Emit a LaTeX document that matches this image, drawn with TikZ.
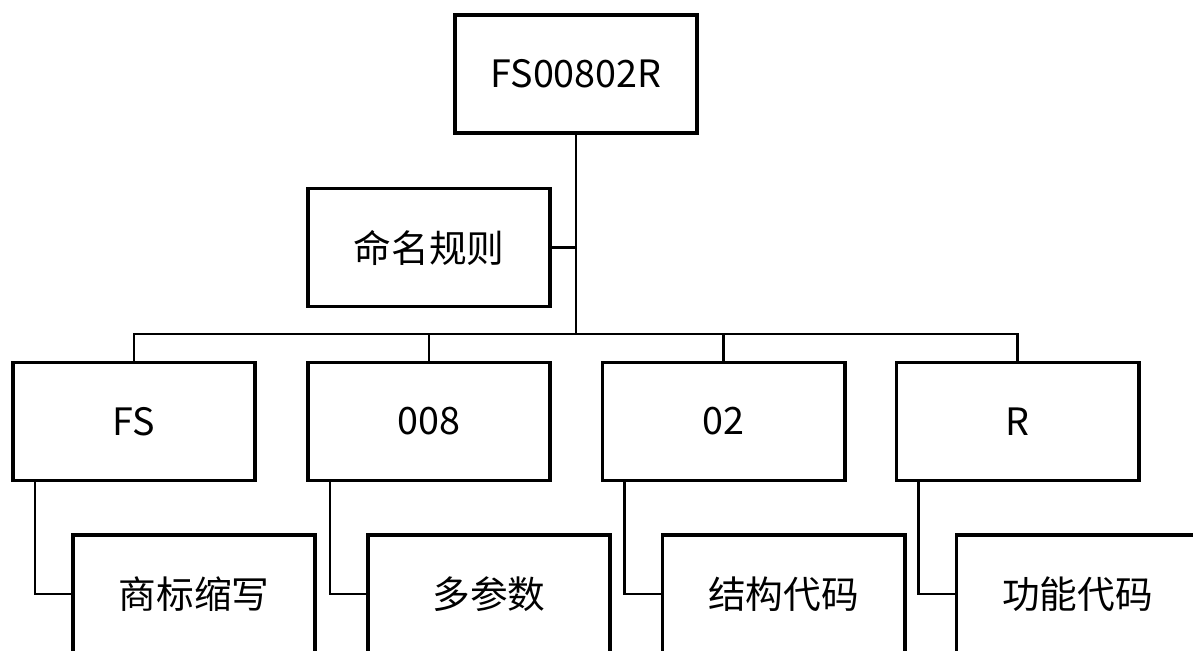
\documentclass[tikz,border=0pt]{standalone}
\usepackage{fontspec}
\newfontfamily\cjk{Noto Sans CJK SC}
\usetikzlibrary{positioning}

\tikzset{
  box/.style={draw, line width=2.8pt, minimum width=6.05cm, minimum height=2.95cm,
              inner sep=0pt, font=\cjk\fontsize{26.8pt}{31pt}\selectfont},
  link/.style={line width=1.7pt}
}

\begin{document}
\begin{tikzpicture}[x=0.025cm,y=-0.025cm]
    \useasboundingbox (0,0) rectangle (1193,651);

    \node[box] (A) at (576,74) {FS00802R};
    \node[box] (B) at (429,247.5) {命名规则};

    \node[box] (C1) at (134,421.5) {FS};
    \node[box] (C2) at (429,421.5) {008};
    \node[box] (C3) at (723.5,421.5) {02};
    \node[box] (C4) at (1017.5,421.5) {R};

    \node[box] (D1) at (194,594) {商标缩写};
    \node[box] (D2) at (489,594) {多参数};
    \node[box] (D3) at (783.5,594) {结构代码};
    \node[box] (D4) at (1077.5,594) {功能代码};

    \coordinate (bus) at (576,334);

    \draw[link] (A.south) -- (bus);
    \draw[link] (B.east) -- (B.east -| A.south);

    \draw[link] (bus) -| (C1.north);
    \draw[link] (bus) -| (C2.north);
    \draw[link] (bus) -| (C3.north);
    \draw[link] (bus) -| (C4.north);

    \draw[link] ([xshift=0.6cm]C1.south west) |- (D1.west);
    \draw[link] ([xshift=0.6cm]C2.south west) |- (D2.west);
    \draw[link] ([xshift=0.6cm]C3.south west) |- (D3.west);
    \draw[link] ([xshift=0.6cm]C4.south west) |- (D4.west);

\end{tikzpicture}
\end{document}
